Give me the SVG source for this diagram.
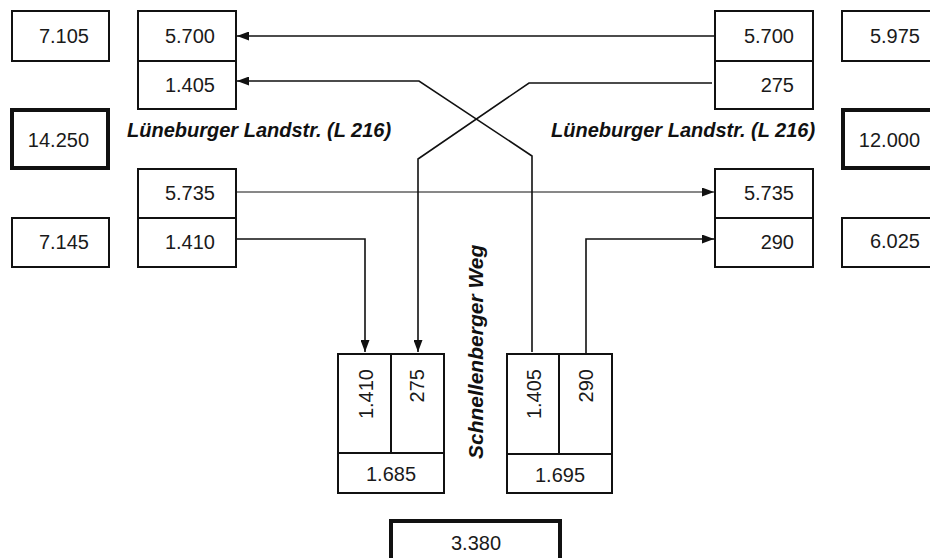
<svg xmlns="http://www.w3.org/2000/svg" width="930" height="558" viewBox="0 0 930 558">
<defs>
<style>
.b{fill:#fff;stroke:#111;stroke-width:2}
.t{fill:#fff;stroke:#111;stroke-width:4}
.d{stroke:#111;stroke-width:2;fill:none}
.n{font-family:"Liberation Sans",Arial,sans-serif;font-size:20px;fill:#1a1a1a}
.e{text-anchor:end}
.m{text-anchor:middle}
.l{font-family:"Liberation Sans",Arial,sans-serif;font-size:20px;font-weight:bold;font-style:italic;fill:#111}
.c{fill:none;stroke:#111;stroke-width:1.6}
.c2{fill:none;stroke:#111;stroke-width:1}
</style>
<marker id="ah" viewBox="0 0 12 9" refX="12" refY="4.5" markerWidth="12" markerHeight="9" markerUnits="userSpaceOnUse" orient="auto">
<path d="M0,0 L12,4.5 L0,9 z" fill="#111"/>
</marker>
</defs>
<rect width="930" height="558" fill="#fff"/>

<g id="connectors">
<path class="c" d="M715,36 H237" marker-end="url(#ah)"/>
<path class="c" d="M532,352 V156 L419,81 H237" marker-end="url(#ah)"/>
<path class="c" d="M712,83 H529 L418,159 V352" marker-end="url(#ah)"/>
<path class="c2" d="M236,192 H714" marker-end="url(#ah)"/>
<path class="c" d="M236,239 H365 V352" marker-end="url(#ah)"/>
<path class="c" d="M586,353 V239 H714" marker-end="url(#ah)"/>
</g>

<g id="n7105"><rect class="b" x="12" y="11" width="97" height="50"/><text class="n e" x="89" y="43">7.105</text></g>
<g id="n14250"><rect class="t" x="12" y="110" width="96" height="58"/><text class="n e" x="89" y="147">14.250</text></g>
<g id="n7145"><rect class="b" x="12" y="218" width="97" height="49"/><text class="n e" x="89" y="249">7.145</text></g>

<g id="leftIn"><rect class="b" x="138" y="11" width="98" height="98"/><line class="d" x1="138" y1="61" x2="236" y2="61"/>
<text class="n e" x="215" y="43">5.700</text><text class="n e" x="215" y="92">1.405</text></g>
<g id="leftOut"><rect class="b" x="138" y="169" width="98" height="98"/><line class="d" x1="138" y1="218" x2="236" y2="218"/>
<text class="n e" x="215" y="200">5.735</text><text class="n e" x="215" y="249">1.410</text></g>

<g id="rightOut"><rect class="b" x="715" y="11" width="98" height="98"/><line class="d" x1="715" y1="61" x2="813" y2="61"/>
<text class="n e" x="794" y="43">5.700</text><text class="n e" x="794" y="92">275</text></g>
<g id="rightIn"><rect class="b" x="715" y="169" width="98" height="98"/><line class="d" x1="715" y1="218" x2="813" y2="218"/>
<text class="n e" x="794" y="200">5.735</text><text class="n e" x="794" y="249">290</text></g>

<g id="n5975"><rect class="b" x="842" y="11" width="98" height="50"/><text class="n e" x="920" y="43">5.975</text></g>
<g id="n12000"><rect class="t" x="843" y="110" width="100" height="58"/><text class="n e" x="920" y="147">12.000</text></g>
<g id="n6025"><rect class="b" x="842" y="218" width="98" height="49"/><text class="n e" x="920" y="248">6.025</text></g>

<text class="l" x="127" y="137">Lüneburger Landstr. (L 216)</text>
<text class="l" x="551" y="137">Lüneburger Landstr. (L 216)</text>
<text class="l" style="font-size:21px" transform="translate(483,459) rotate(-90)">Schnellenberger Weg</text>

<g id="bottomLeft"><rect class="b" x="338" y="354" width="106" height="139"/>
<line class="d" x1="391" y1="354" x2="391" y2="453"/><line class="d" x1="338" y1="453" x2="444" y2="453"/>
<text class="n e" transform="translate(373,369) rotate(-90)">1.410</text>
<text class="n e" transform="translate(424,369) rotate(-90)">275</text>
<text class="n m" x="391" y="481">1.685</text></g>

<g id="bottomRight"><rect class="b" x="507" y="354" width="105" height="139"/>
<line class="d" x1="559" y1="354" x2="559" y2="454"/><line class="d" x1="507" y1="454" x2="612" y2="454"/>
<text class="n e" transform="translate(541,369) rotate(-90)">1.405</text>
<text class="n e" transform="translate(593,369) rotate(-90)">290</text>
<text class="n m" x="560" y="482">1.695</text></g>

<g id="total"><rect class="t" x="391" y="521" width="169" height="50"/><text class="n m" x="476" y="550">3.380</text></g>
</svg>
